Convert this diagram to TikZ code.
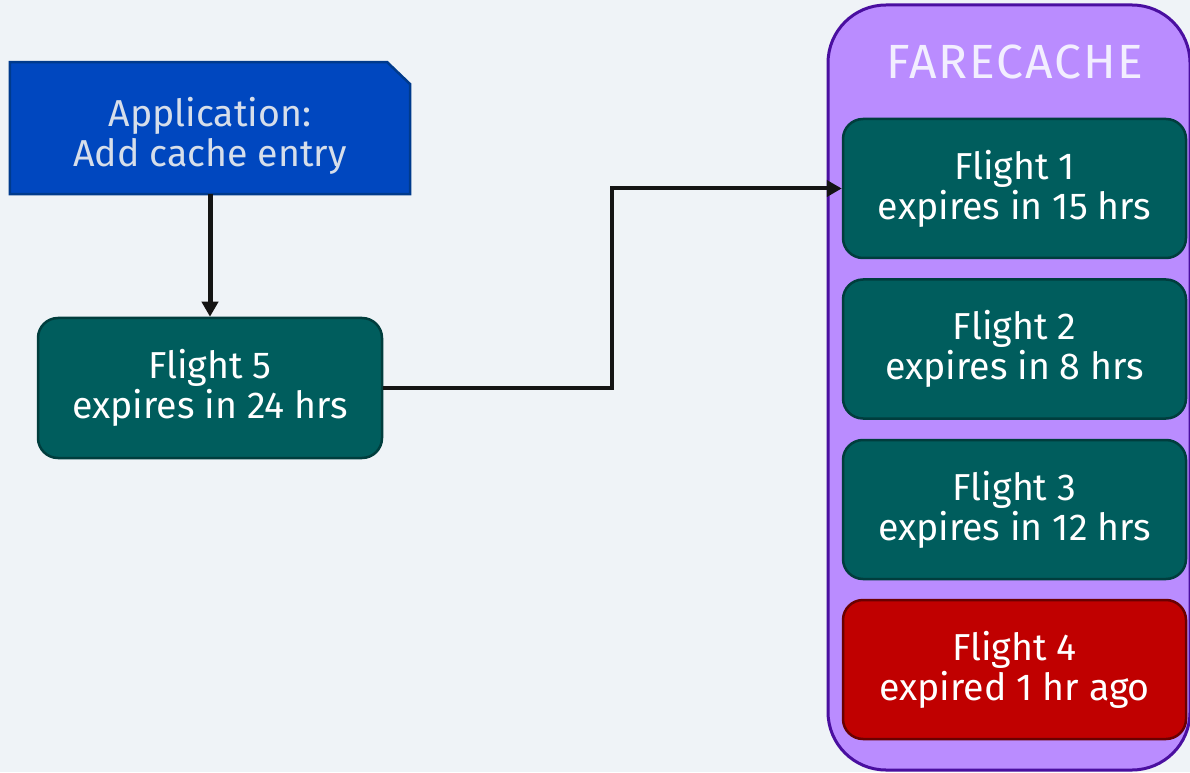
\documentclass[tikz,border=0pt]{standalone}
\usepackage{fontspec}
\setmainfont{Fira Sans}
\usetikzlibrary{arrows.meta,backgrounds}
\definecolor{bgc}{HTML}{EFF3F7}
\definecolor{appfill}{HTML}{0047BF}
\definecolor{appline}{HTML}{003A8C}
\definecolor{apptext}{HTML}{D6DEEA}
\definecolor{tealfill}{HTML}{005D5D}
\definecolor{tealline}{HTML}{003D3D}
\definecolor{redfill}{HTML}{C00000}
\definecolor{redline}{HTML}{6A0000}
\definecolor{cachefill}{HTML}{BA8CFF}
\definecolor{cacheline}{HTML}{4A0FA0}
\definecolor{cachetext}{HTML}{F2EEFF}
\tikzset{
  x=1pt, y=1pt,
  lbl/.style={font=\fontsize{37.5}{40}\selectfont, align=center, text=white},
  entry/.style={lbl, draw=tealline, fill=tealfill, line width=2.5pt,
    rounded corners=20pt, minimum width=343pt, minimum height=139pt},
  expired/.style={entry, draw=redline, fill=redfill},
  link/.style={draw=black!92, -{Triangle[length=15pt,width=16pt]}},
}
\begin{document}
\begin{tikzpicture}
\useasboundingbox (0,0) rectangle (1190,772);

% cache container
\draw[fill=cachefill, draw=cacheline, line width=3pt, rounded corners=58pt]
  (828,2) rectangle (1190,767);
\node (title) at (1015,710) [font=\fontsize{48}{52}\selectfont, text=cachetext]
  {\addfontfeatures{LetterSpace=4}FARECACHE};

% application step with cut corner (text sits a little below the middle)
\node (app) at (210,636) [minimum width=400pt, minimum height=116pt, lbl, text=apptext]
  {Application:\\Add cache entry};
\begin{scope}[on background layer]
\fill[bgc] (0,0) rectangle (1190,772);
\filldraw[fill=appfill, draw=appline, line width=2.5pt]
  (app.south west) -- ([yshift=132pt]app.south west)
  -- ([xshift=-23pt,yshift=132pt]app.south east)
  -- ([yshift=110pt]app.south east) -- (app.south east) -- cycle;
\end{scope}

% new entry
\node (f5) at (210,384) [entry, minimum width=344pt, minimum height=140pt]
  {Flight 5\\expires in 24 hrs};

% cached entries
\node (f1) at (1014.5,583.5) [entry] {Flight 1\\expires in 15 hrs};
\node (f2) at (1014.5,423) [entry] {Flight 2\\expires in 8 hrs};
\node (f3) at (1014.5,262.5) [entry] {Flight 3\\expires in 12 hrs};
\node (f4) at (1014.5,102.5) [expired] {Flight 4\\expired 1 hr ago};

% connectors
\draw[link, line width=5pt] (app.south) -- (f5.north);
\draw[link, line width=4pt] (f5.east) -- (612,384) |- (f1.west);
\end{tikzpicture}
\end{document}
